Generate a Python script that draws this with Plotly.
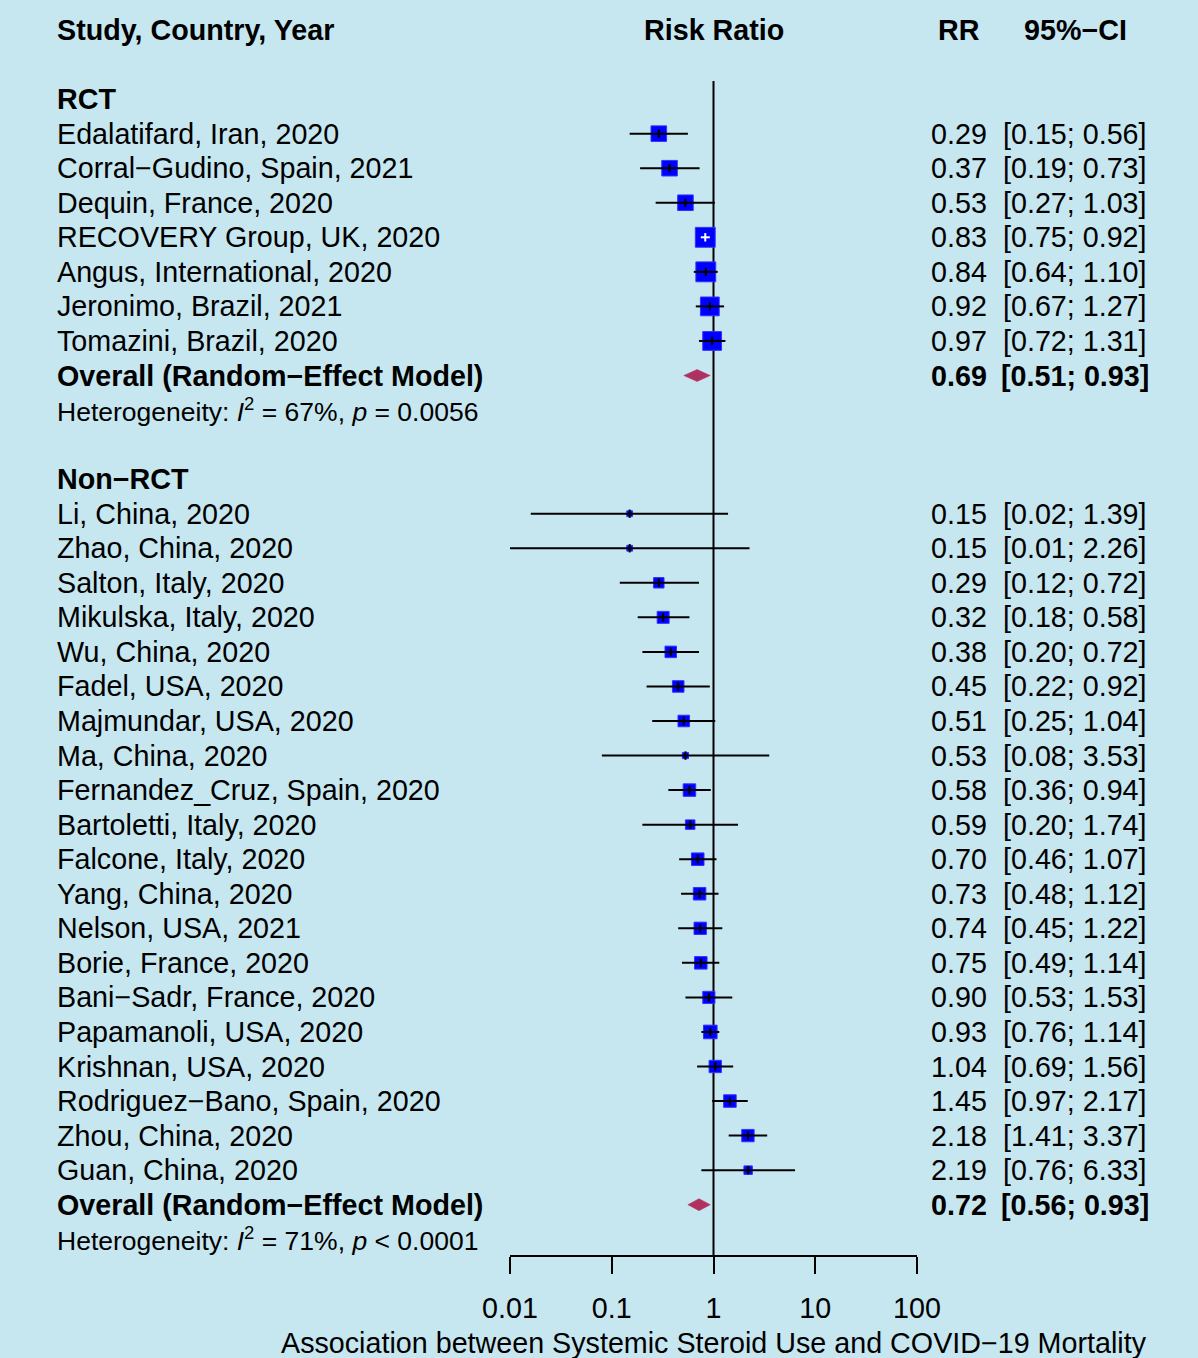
import numpy as np
import plotly.graph_objects as go

# ---------------- data ----------------
rct_study = ["Edalatifard, Iran, 2020", "Corral−Gudino, Spain, 2021", "Dequin, France, 2020",
             "RECOVERY Group, UK, 2020", "Angus, International, 2020", "Jeronimo, Brazil, 2021",
             "Tomazini, Brazil, 2020"]
rct_rr = [0.29, 0.37, 0.53, 0.83, 0.84, 0.92, 0.97]
rct_lo = [0.15, 0.19, 0.27, 0.75, 0.64, 0.67, 0.72]
rct_hi = [0.56, 0.73, 1.03, 0.92, 1.10, 1.27, 1.31]
rct_w = [5.1, 5.1, 5.1, 8.3, 8.3, 7.4, 7.4]
rct_overall = [0.69, 0.51, 0.93]
rct_het = ["67%", "= 0.0056"]

non_study = ["Li, China, 2020", "Zhao, China, 2020", "Salton, Italy, 2020", "Mikulska, Italy, 2020",
             "Wu, China, 2020", "Fadel, USA, 2020", "Majmundar, USA, 2020", "Ma, China, 2020",
             "Fernandez_Cruz, Spain, 2020", "Bartoletti, Italy, 2020", "Falcone, Italy, 2020",
             "Yang, China, 2020", "Nelson, USA, 2021", "Borie, France, 2020", "Bani−Sadr, France, 2020",
             "Papamanoli, USA, 2020", "Krishnan, USA, 2020", "Rodriguez−Bano, Spain, 2020",
             "Zhou, China, 2020", "Guan, China, 2020"]
non_rr = [0.15, 0.15, 0.29, 0.32, 0.38, 0.45, 0.51, 0.53, 0.58, 0.59, 0.70, 0.73, 0.74, 0.75,
          0.90, 0.93, 1.04, 1.45, 2.18, 2.19]
non_lo = [0.016, 0.01, 0.12, 0.18, 0.20, 0.22, 0.25, 0.08, 0.36, 0.20, 0.46, 0.48, 0.45, 0.49,
          0.53, 0.76, 0.69, 0.97, 1.41, 0.76]
non_hi = [1.39, 2.26, 0.72, 0.58, 0.72, 0.92, 1.04, 3.53, 0.94, 1.74, 1.07, 1.12, 1.22, 1.14,
          1.53, 1.14, 1.56, 2.17, 3.37, 6.33]
non_w = [0.7, 0.7, 2.3, 3.0, 2.8, 2.8, 2.8, 0.8, 3.3, 1.9, 3.3, 3.3, 3.2, 3.3, 3.1, 3.9, 3.2,
         3.3, 3.2, 1.5]
non_overall = [0.72, 0.56, 0.93]
non_het = ["71%", "< 0.0001"]

tick_vals = [0.01, 0.1, 1, 10, 100]
tick_text = ["0.01", "0.1", "1", "10", "100"]
axis_title = "Association between Systemic Steroid Use and COVID−19 Mortality"

# ---------------- layout constants ----------------
W, H = 1198, 1358
BG = "#C7E7F0"
FONT = "Liberation Sans, Arial, sans-serif"
ROW0_PX, ROW_PX = 30.0, 34.55          # pixel position of row 0 and row pitch
X_LEFT_PX, X_RIGHT_PX = 510.0, 917.0   # forest axis extent
AXIS_PX = 1256.0
DECADE_PX = (X_RIGHT_PX - X_LEFT_PX) / 4.0
SIZE_K = 6.9                           # box side (px) = SIZE_K * sqrt(weight)
FS = 28.7
FS_HET = 26.5

y_top = (0 - ROW0_PX) / ROW_PX
y_bot = (H - ROW0_PX) / ROW_PX

groups = [
    ("RCT", rct_study, rct_rr, rct_lo, rct_hi, rct_w, rct_overall, rct_het),
    ("Non−RCT", non_study, non_rr, non_lo, non_hi, non_w, non_overall, non_het),
]

fig = go.Figure()
ann = []

def txt(x, y, s, anchor="left", size=FS, xref="paper"):
    ann.append(dict(x=x, y=y, xref=xref, yref="y", text=s, showarrow=False,
                    xanchor=anchor, yanchor="middle",
                    font=dict(family=FONT, size=size, color="black")))

XL = 54.5 / W
XRR = 959 / W
XCI = 1075 / W

# header
txt(XL, 0, "<b>Study, Country, Year</b>")
txt(0, 0, "<b>Risk Ratio</b>", anchor="center", xref="x")
txt(XRR, 0, "<b>RR</b>", anchor="center")
txt(XCI, 0, "<b>95%−CI</b>", anchor="center")

box_x, box_y, box_s = [], [], []
ci_x, ci_y, ci_wx, ci_wy = [], [], [], []
tk_x, tk_y, tkw_x, tkw_y = [], [], [], []

row = 2
for name, studies, rr, lo, hi, w, ov, het in groups:
    txt(XL, row, f"<b>{name}</b>")
    row += 1
    for s, e, l, h, wt in zip(studies, rr, lo, hi, w):
        txt(XL, row, s)
        txt(XRR, row, f"{e:.2f}", anchor="center")
        txt(XCI, row, f"[{l:.2f}; {h:.2f}]", anchor="center")
        size = SIZE_K * np.sqrt(wt)
        box_x.append(e); box_y.append(row); box_s.append(size)
        half = 10 ** ((size / 2) / DECADE_PX)
        inside = (l >= e / half) and (h <= e * half)
        if inside:
            ci_wx += [l, h, None]; ci_wy += [row, row, None]
            tkw_x.append(e); tkw_y.append(row)
        else:
            ci_x += [l, h, None]; ci_y += [row, row, None]
            tk_x.append(e); tk_y.append(row)
        row += 1
    e, l, h = ov
    txt(XL, row, "<b>Overall (Random−Effect Model)</b>")
    txt(XRR, row, f"<b>{e:.2f}</b>", anchor="center")
    txt(XCI, row, f"<b>[{l:.2f}; {h:.2f}]</b>", anchor="center")
    dh = 6.0 / ROW_PX
    fig.add_trace(go.Scatter(x=[l, e, h, e, l], y=[row, row - dh, row, row + dh, row],
                             mode="lines", fill="toself", fillcolor="#B03060",
                             line=dict(color="#B03060", width=0.5), hoverinfo="skip",
                             showlegend=False))
    row += 1
    txt(XL, row, f"Heterogeneity: <i>I</i><sup>2</sup> = {het[0]}, <i>p</i> {het[1]}", size=FS_HET)
    row += 2

# reference line at RR = 1
fig.add_trace(go.Scatter(x=[1, 1], y=[(81 - ROW0_PX) / ROW_PX, (AXIS_PX - ROW0_PX) / ROW_PX],
                         mode="lines", line=dict(color="black", width=2),
                         hoverinfo="skip", showlegend=False))
# boxes
fig.add_trace(go.Scatter(x=box_x, y=box_y, mode="markers",
                         marker=dict(symbol="square", size=box_s, color="#0000FF", opacity=1,
                                     line=dict(color="#3333FF", width=1)),
                         hoverinfo="skip", showlegend=False))
# CI lines
fig.add_trace(go.Scatter(x=ci_x, y=ci_y, mode="lines", line=dict(color="black", width=2),
                         hoverinfo="skip", showlegend=False))
fig.add_trace(go.Scatter(x=ci_wx, y=ci_wy, mode="lines", line=dict(color="white", width=2),
                         hoverinfo="skip", showlegend=False))
# estimate ticks
fig.add_trace(go.Scatter(x=tk_x, y=tk_y, mode="markers",
                         marker=dict(symbol="line-ns", size=6, line=dict(color="black", width=2)),
                         hoverinfo="skip", showlegend=False))
fig.add_trace(go.Scatter(x=tkw_x, y=tkw_y, mode="markers",
                         marker=dict(symbol="line-ns", size=6, line=dict(color="white", width=2)),
                         hoverinfo="skip", showlegend=False))

# axis title
ann.append(dict(x=0.5, y=1 - 1343 / H, xref="x domain", yref="paper", text=axis_title,
                showarrow=False, xanchor="center", yanchor="middle",
                font=dict(family=FONT, size=FS, color="black")))

fig.update_layout(
    template="none",
    width=W, height=H, margin=dict(l=0, r=0, t=0, b=0, pad=0),
    paper_bgcolor=BG, plot_bgcolor=BG, showlegend=False,
    annotations=ann,
    xaxis=dict(type="log", range=[-2, 2], domain=[X_LEFT_PX / W, X_RIGHT_PX / W],
               anchor="free", position=1 - AXIS_PX / H, automargin=False,
               showgrid=False, zeroline=False, showline=True, linecolor="black", linewidth=2,
               ticks="outside", ticklen=17, tickwidth=2, tickcolor="black",
               tickvals=tick_vals, ticktext=tick_text, ticklabelstandoff=10,
               tickfont=dict(family=FONT, size=FS, color="black")),
    yaxis=dict(range=[y_bot, y_top], domain=[0, 1], visible=False, showgrid=False,
               zeroline=False, automargin=False),
)

fig.write_html("out.html")
